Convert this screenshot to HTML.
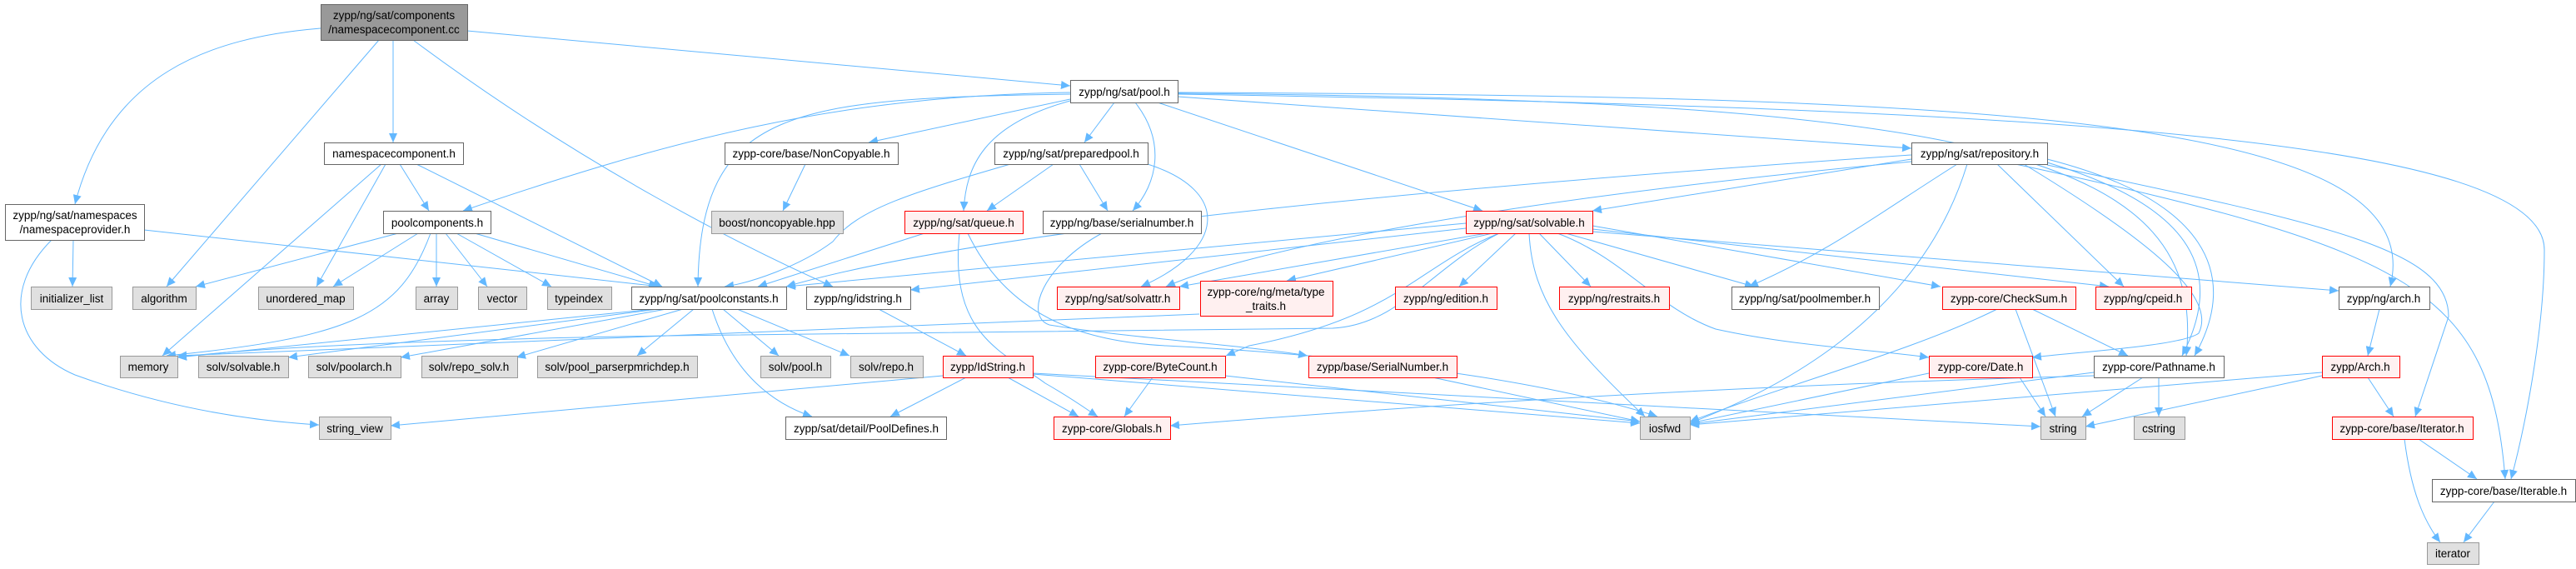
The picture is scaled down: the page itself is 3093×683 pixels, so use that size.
<!DOCTYPE html>
<html><head><meta charset="utf-8"><style>
html,body{margin:0;padding:0;background:#fff;}
svg{display:block;}
text{font-family:"Liberation Sans",Arial,sans-serif;font-size:13.5px;fill:#000;text-anchor:middle;}
.w{fill:#fff;stroke:#666;stroke-width:1;}
.g{fill:#e0e0e0;stroke:#999;stroke-width:1;}
.r{fill:#fff0f0;stroke:#f00;stroke-width:1;}
.c{fill:#999;stroke:#666;stroke-width:1;}
.e path{fill:none;stroke:#63b8ff;stroke-width:1;marker-end:url(#a);}
</style></head><body>
<svg width="3093" height="683" viewBox="0 0 3093 683" xmlns="http://www.w3.org/2000/svg">
<defs><marker id="a" markerUnits="userSpaceOnUse" markerWidth="12" markerHeight="10" refX="11" refY="5" orient="auto"><path d="M0,0 L11,5 L0,10 z" fill="#63b8ff"/></marker></defs>
<g class="e">
<path d="M385,34 C250,45 130,90 90,245"/>
<path d="M455,48 L200,344"/>
<path d="M472,48 L472,171"/>
<path d="M496,48 C700,200 900,300 1000,344"/>
<path d="M561,37 L1285,103"/>
<path d="M458,197 L195,427"/>
<path d="M463,197 L380,344"/>
<path d="M480,197 L515,253"/>
<path d="M500,197 L795,344"/>
<path d="M88,288 L87,344"/>
<path d="M62,288 C0,350 20,420 90,450 C200,490 300,505 383,510"/>
<path d="M173,276 L793,344"/>
<path d="M478,280 L235,344"/>
<path d="M502,280 L400,344"/>
<path d="M517,280 C480,380 420,405 200,427"/>
<path d="M524,280 L524,344"/>
<path d="M535,280 L585,344"/>
<path d="M548,280 L662,344"/>
<path d="M570,280 L790,344"/>
<path d="M785,371 L213,429"/>
<path d="M790,371 L346,429"/>
<path d="M800,371 L481,429"/>
<path d="M820,371 L620,429"/>
<path d="M833,371 L765,427"/>
<path d="M868,371 L935,427"/>
<path d="M885,371 L1020,427"/>
<path d="M855,371 C880,450 930,485 975,500"/>
<path d="M1285,111 C1000,115 800,170 556,253"/>
<path d="M1285,113 C950,118 840,130 838,344"/>
<path d="M1285,119 L1043,171"/>
<path d="M1338,123 L1302,171"/>
<path d="M1285,121 C1180,150 1160,200 1157,253"/>
<path d="M1363,123 C1400,170 1390,220 1360,253"/>
<path d="M1414,116 L2295,178"/>
<path d="M1390,123 L1780,253"/>
<path d="M1414,112 C2400,120 2650,190 2625,427"/>
<path d="M1414,111 C2400,115 2920,140 2870,344"/>
<path d="M1414,113 C2500,130 3055,170 3055,300 C3055,400 3030,520 3015,575"/>
<path d="M967,197 L940,253"/>
<path d="M1213,197 C1100,230 1030,250 1000,290 C960,320 900,340 870,344"/>
<path d="M1265,197 L1185,253"/>
<path d="M1296,197 L1330,253"/>
<path d="M1378,197 C1480,230 1470,300 1370,344"/>
<path d="M1110,280 L910,344"/>
<path d="M1152,280 C1140,400 1200,420 1255,460 C1290,480 1310,495 1318,500"/>
<path d="M1162,280 C1210,380 1300,410 1400,415 C1700,430 1900,470 1990,500"/>
<path d="M1323,280 C1250,320 1230,380 1260,390 C1350,405 1500,415 1570,427"/>
<path d="M1055,371 L1160,427"/>
<path d="M1132,451 L469,511"/>
<path d="M1160,453 L1069,500"/>
<path d="M1210,453 L1295,500"/>
<path d="M1240,448 L2450,512"/>
<path d="M1240,449 L1969,508"/>
<path d="M1384,453 L1350,500"/>
<path d="M1471,451 L1969,506"/>
<path d="M1720,453 L1969,506"/>
<path d="M1760,268 L944,344"/>
<path d="M1760,274 L1093,348"/>
<path d="M1785,280 L1416,344"/>
<path d="M1792,280 L1545,337"/>
<path d="M1820,280 L1752,344"/>
<path d="M1848,280 L1910,344"/>
<path d="M1836,280 C1840,360 1880,410 1975,500"/>
<path d="M1880,280 L2106,344"/>
<path d="M1912,271 L2330,344"/>
<path d="M1912,275 L2532,344"/>
<path d="M1912,278 L2808,349"/>
<path d="M1870,280 C1950,310 1990,370 2060,395 C2150,415 2250,420 2316,429"/>
<path d="M1800,280 C1700,320 1680,380 1500,415 L1472,427"/>
<path d="M1800,280 C1720,320 1680,390 1600,394 L800,403 C500,408 300,418 213,429"/>
<path d="M1440,377 L213,427"/>
<path d="M2295,191 L1912,253"/>
<path d="M2295,186 C1800,220 1200,270 944,344"/>
<path d="M2295,194 C1800,240 1500,300 1400,344"/>
<path d="M2350,197 C2250,260 2200,300 2100,344"/>
<path d="M2362,197 C2300,400 2100,480 2029,508"/>
<path d="M2398,197 L2550,344"/>
<path d="M2430,197 C2600,300 2660,360 2640,400 C2620,415 2500,422 2440,429"/>
<path d="M2458,191 C2650,240 2690,330 2635,427"/>
<path d="M2458,195 C2640,250 2670,330 2620,427"/>
<path d="M2458,198 C2800,270 2940,300 2940,380 L2900,500"/>
<path d="M2420,197 C2900,300 2990,350 3008,575"/>
<path d="M2420,371 L2468,500"/>
<path d="M2440,371 L2555,427"/>
<path d="M2398,371 C2300,420 2150,460 2029,506"/>
<path d="M2425,453 L2456,500"/>
<path d="M2316,448 L2029,508"/>
<path d="M2573,453 L2500,500"/>
<path d="M2592,453 L2592,500"/>
<path d="M2514,447 L2029,509"/>
<path d="M2514,451 C2000,465 1600,495 1405,511"/>
<path d="M2857,371 L2843,427"/>
<path d="M2788,451 L2504,512"/>
<path d="M2843,453 L2874,500"/>
<path d="M2788,447 L2029,510"/>
<path d="M2904,527 L2974,575"/>
<path d="M2887,527 C2895,590 2910,625 2930,651"/>
<path d="M2995,602 L2958,651"/>
</g>
<g>
<rect class="c" x="385.5" y="5.5" width="176" height="43"/><text x="473" y="23">zypp/ng/sat/components</text><text x="473" y="40">/namespacecomponent.cc</text>
<rect class="w" x="1285.5" y="96.5" width="129" height="27"/><text x="1350" y="115">zypp/ng/sat/pool.h</text>
<rect class="w" x="389.5" y="171.5" width="167" height="26"/><text x="473" y="189">namespacecomponent.h</text>
<rect class="w" x="870.5" y="171.5" width="208" height="26"/><text x="974" y="189">zypp-core/base/NonCopyable.h</text>
<rect class="w" x="1194.5" y="171.5" width="184" height="26"/><text x="1286" y="189">zypp/ng/sat/preparedpool.h</text>
<rect class="w" x="2295.5" y="171.5" width="163" height="26"/><text x="2377" y="189">zypp/ng/sat/repository.h</text>
<rect class="w" x="6.5" y="245.5" width="167" height="43"/><text x="90" y="263">zypp/ng/sat/namespaces</text><text x="90" y="280">/namespaceprovider.h</text>
<rect class="w" x="460.5" y="253.5" width="129" height="27"/><text x="525" y="272">poolcomponents.h</text>
<rect class="g" x="854.5" y="253.5" width="158" height="27"/><text x="933" y="272">boost/noncopyable.hpp</text>
<rect class="r" x="1086.5" y="253.5" width="142" height="27"/><text x="1157" y="272">zypp/ng/sat/queue.h</text>
<rect class="w" x="1252.5" y="253.5" width="190" height="27"/><text x="1347" y="272">zypp/ng/base/serialnumber.h</text>
<rect class="r" x="1760.5" y="253.5" width="152" height="27"/><text x="1836" y="272">zypp/ng/sat/solvable.h</text>
<rect class="g" x="37.5" y="344.5" width="97" height="27"/><text x="86" y="363">initializer_list</text>
<rect class="g" x="159.5" y="344.5" width="76" height="27"/><text x="197" y="363">algorithm</text>
<rect class="g" x="310.5" y="344.5" width="114" height="27"/><text x="367" y="363">unordered_map</text>
<rect class="g" x="499.5" y="344.5" width="50" height="27"/><text x="524" y="363">array</text>
<rect class="g" x="574.5" y="344.5" width="58" height="27"/><text x="603" y="363">vector</text>
<rect class="g" x="657.5" y="344.5" width="77" height="27"/><text x="695" y="363">typeindex</text>
<rect class="w" x="758.5" y="344.5" width="186" height="27"/><text x="851" y="363">zypp/ng/sat/poolconstants.h</text>
<rect class="w" x="968.5" y="344.5" width="125" height="27"/><text x="1030" y="363">zypp/ng/idstring.h</text>
<rect class="r" x="1269.5" y="344.5" width="147" height="27"/><text x="1342" y="363">zypp/ng/sat/solvattr.h</text>
<rect class="r" x="1441.5" y="337.5" width="159" height="42"/><text x="1520" y="355">zypp-core/ng/meta/type</text><text x="1520" y="372">_traits.h</text>
<rect class="r" x="1675.5" y="344.5" width="122" height="27"/><text x="1736" y="363">zypp/ng/edition.h</text>
<rect class="r" x="1872.5" y="344.5" width="132" height="27"/><text x="1938" y="363">zypp/ng/restraits.h</text>
<rect class="w" x="2079.5" y="344.5" width="177" height="27"/><text x="2167" y="363">zypp/ng/sat/poolmember.h</text>
<rect class="r" x="2332.5" y="344.5" width="160" height="27"/><text x="2412" y="363">zypp-core/CheckSum.h</text>
<rect class="r" x="2516.5" y="344.5" width="115" height="27"/><text x="2573" y="363">zypp/ng/cpeid.h</text>
<rect class="w" x="2808.5" y="344.5" width="109" height="27"/><text x="2862" y="363">zypp/ng/arch.h</text>
<rect class="g" x="144.5" y="427.5" width="69" height="26"/><text x="178" y="445">memory</text>
<rect class="g" x="238.5" y="427.5" width="108" height="26"/><text x="292" y="445">solv/solvable.h</text>
<rect class="g" x="370.5" y="427.5" width="111" height="26"/><text x="425" y="445">solv/poolarch.h</text>
<rect class="g" x="506.5" y="427.5" width="115" height="26"/><text x="563" y="445">solv/repo_solv.h</text>
<rect class="g" x="645.5" y="427.5" width="192" height="26"/><text x="741" y="445">solv/pool_parserpmrichdep.h</text>
<rect class="g" x="913.5" y="427.5" width="84" height="26"/><text x="955" y="445">solv/pool.h</text>
<rect class="g" x="1021.5" y="427.5" width="87" height="26"/><text x="1064" y="445">solv/repo.h</text>
<rect class="r" x="1132.5" y="427.5" width="108" height="26"/><text x="1186" y="445">zypp/IdString.h</text>
<rect class="r" x="1315.5" y="427.5" width="156" height="26"/><text x="1393" y="445">zypp-core/ByteCount.h</text>
<rect class="r" x="1571.5" y="427.5" width="178" height="26"/><text x="1660" y="445">zypp/base/SerialNumber.h</text>
<rect class="r" x="2316.5" y="427.5" width="124" height="26"/><text x="2378" y="445">zypp-core/Date.h</text>
<rect class="w" x="2514.5" y="427.5" width="156" height="26"/><text x="2592" y="445">zypp-core/Pathname.h</text>
<rect class="r" x="2788.5" y="427.5" width="93" height="26"/><text x="2834" y="445">zypp/Arch.h</text>
<rect class="g" x="383.5" y="500.5" width="86" height="27"/><text x="426" y="519">string_view</text>
<rect class="w" x="943.5" y="500.5" width="193" height="27"/><text x="1040" y="519">zypp/sat/detail/PoolDefines.h</text>
<rect class="r" x="1265.5" y="500.5" width="140" height="27"/><text x="1335" y="519">zypp-core/Globals.h</text>
<rect class="g" x="1969.5" y="500.5" width="60" height="27"/><text x="1999" y="519">iosfwd</text>
<rect class="g" x="2450.5" y="500.5" width="54" height="27"/><text x="2477" y="519">string</text>
<rect class="g" x="2562.5" y="500.5" width="61" height="27"/><text x="2592" y="519">cstring</text>
<rect class="r" x="2800.5" y="500.5" width="169" height="27"/><text x="2884" y="519">zypp-core/base/Iterator.h</text>
<rect class="w" x="2920.5" y="575.5" width="172" height="27"/><text x="3006" y="594">zypp-core/base/Iterable.h</text>
<rect class="g" x="2914.5" y="651.5" width="62" height="26"/><text x="2945" y="669">iterator</text>
</g>
</svg>
</body></html>
